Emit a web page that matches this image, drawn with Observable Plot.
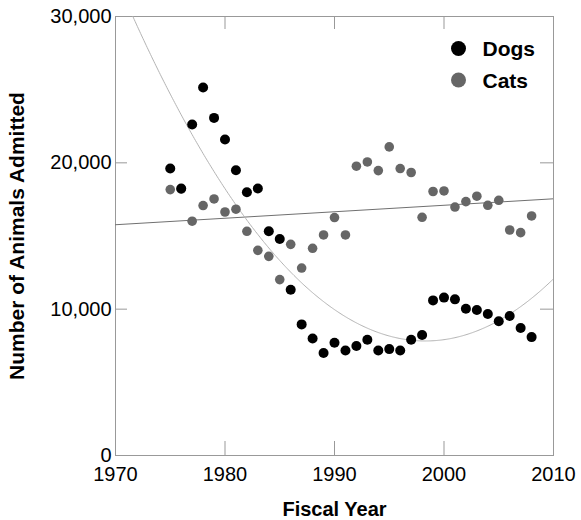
<!DOCTYPE html>
<html>
<head>
<meta charset="utf-8">
<script src="https://cdn.jsdelivr.net/npm/d3@7"></script>
<script src="https://cdn.jsdelivr.net/npm/@observablehq/plot@0.6"></script>
<style>
  html, body { margin: 0; padding: 0; background: #fff; }
  #chart svg { display: block; }
</style>
</head>
<body>
<div id="chart"></div>
<script>
// Annual shelter intake, dogs and cats
const dogYears = [1975, 1976, 1977, 1978, 1979, 1980, 1981, 1982, 1983, 1984, 1985, 1986,
  1987, 1988, 1989, 1990, 1991, 1992, 1993, 1994, 1995, 1996, 1997, 1998, 1999, 2000,
  2001, 2002, 2003, 2004, 2005, 2006, 2007, 2008];
const dogCounts = [19610, 18240, 22620, 25150, 23070, 21590, 19490, 17990, 18240, 15320, 14800, 11330,
  8960, 8000, 7000, 7710, 7180, 7480, 7910, 7180, 7270, 7180, 7910, 8230, 10600, 10790,
  10670, 10030, 9940, 9670, 9170, 9530, 8710, 8090];

const catYears = [1975, 1976, 1977, 1978, 1979, 1980, 1981, 1982, 1983, 1984, 1985, 1986,
  1987, 1988, 1989, 1990, 1991, 1992, 1993, 1994, 1995, 1996, 1997, 1998, 1999, 2000,
  2001, 2002, 2003, 2004, 2005, 2006, 2007, 2008];
const catCounts = [18170, 18200, 16010, 17080, 17530, 16640, 16830, 15320, 14020, 13610, 12020, 14430,
  12810, 14160, 15070, 16260, 15070, 19770, 20060, 19470, 21090, 19610, 19340, 16280, 18040, 18080,
  16980, 17350, 17720, 17100, 17440, 15410, 15230, 16370];

const yearDomain = [1970, 2010];
const countDomain = [0, 30000];
const yearTicks = [1970, 1980, 1990, 2000, 2010];
const innerYearTicks = [1980, 1990, 2000];
const countTicks = [0, 10000, 20000, 30000];
const innerCountTicks = [10000, 20000];
const seriesLabels = ["Dogs", "Cats"];
const seriesColors = ["#000000", "#666666"];

const dogs = dogYears.map((year, i) => ({year, count: dogCounts[i]}));
const cats = catYears.map((year, i) => ({year, count: catCounts[i]}));

// Least-squares polynomial fit (degree 1 or 2), centred on the mean year
function polyFit(xs, ys, degree) {
  const x0 = d3.mean(xs);
  const n = degree + 1;
  const A = Array.from({length: n}, () => new Array(n).fill(0));
  const b = new Array(n).fill(0);
  xs.forEach((x, k) => {
    const u = x - x0;
    for (let i = 0; i < n; i++) {
      b[i] += ys[k] * u ** i;
      for (let j = 0; j < n; j++) A[i][j] += u ** (i + j);
    }
  });
  // Gaussian elimination
  for (let i = 0; i < n; i++) {
    for (let r = i + 1; r < n; r++) {
      const f = A[r][i] / A[i][i];
      for (let c = i; c < n; c++) A[r][c] -= f * A[i][c];
      b[r] -= f * b[i];
    }
  }
  const coef = new Array(n).fill(0);
  for (let i = n - 1; i >= 0; i--) {
    let s = b[i];
    for (let c = i + 1; c < n; c++) s -= A[i][c] * coef[c];
    coef[i] = s / A[i][i];
  }
  return x => coef.reduce((acc, c, i) => acc + c * (x - x0) ** i, 0);
}

const dogTrend = polyFit(dogYears, dogCounts, 2);
const catTrend = polyFit(catYears, catCounts, 1);
const fitYears = d3.range(yearDomain[0], yearDomain[1] + 0.001, 0.1);
const dogCurve = fitYears.map(year => ({year, count: dogTrend(year)}));
const catLine = yearDomain.map(year => ({year, count: catTrend(year)}));

const font = "'Liberation Sans', Arial, Helvetica, sans-serif";
const axisGray = "#999999";

const W = 581, H = 520;
const margin = {left: 115, right: 28, top: 16, bottom: 65};
const frameW = W - margin.left - margin.right;
const frameH = H - margin.top - margin.bottom;

const chart = Plot.plot({
  width: W,
  height: H,
  marginLeft: margin.left,
  marginRight: margin.right,
  marginTop: margin.top,
  marginBottom: margin.bottom,
  style: {fontFamily: font, color: "#000", background: "#fff"},
  x: {domain: yearDomain},
  y: {domain: countDomain},
  marks: [
    Plot.frame({stroke: axisGray}),
    // inward tick marks on all four sides
    Plot.ruleX(innerYearTicks, {x: d => d, insetTop: frameH - 14, stroke: axisGray}),
    Plot.ruleX(innerYearTicks, {x: d => d, insetBottom: frameH - 13, stroke: axisGray}),
    Plot.ruleY(innerCountTicks, {y: d => d, insetRight: frameW - 12, stroke: axisGray}),
    Plot.ruleY(innerCountTicks, {y: d => d, insetLeft: frameW - 13, stroke: axisGray}),
    // tick labels
    Plot.axisX(yearTicks, {anchor: "bottom", tickSize: 0, tickPadding: 11, fontSize: 20, tickFormat: d3.format("d"), label: null, fill: "#000"}),
    Plot.axisY(countTicks, {anchor: "left", tickSize: 0, tickPadding: 4, fontSize: 20, tickFormat: d3.format(","), label: null, fill: "#000"}),
    // axis titles
    Plot.text(["Fiscal Year"], {frameAnchor: "bottom", dy: 54, text: d => d, fontSize: 20, fontWeight: "bold", lineAnchor: "middle", fill: "#000"}),
    Plot.text(["Number of Animals Admitted"], {frameAnchor: "left", dx: -98, rotate: -90, text: d => d, textAnchor: "middle", fontSize: 21, fontWeight: "bold", lineAnchor: "middle", fill: "#000"}),
    // fitted trends
    Plot.line(catLine, {x: "year", y: "count", stroke: "#707070", strokeWidth: 1, clip: true}),
    Plot.line(dogCurve, {x: "year", y: "count", stroke: "#b4b4b4", strokeWidth: 1, clip: true}),
    // observations
    Plot.dot(cats, {x: "year", y: "count", r: 4.8, fill: seriesColors[1], stroke: "none"}),
    Plot.dot(dogs, {x: "year", y: "count", r: 5, fill: seriesColors[0], stroke: "none"}),
    // legend
    ...seriesLabels.flatMap((label, i) => [
      Plot.dot([label], {frameAnchor: "top-right", dx: -95, dy: 32 + i * 31.5, r: 7.5, fill: seriesColors[i], stroke: "none"}),
      Plot.text([label], {frameAnchor: "top-right", dx: -71, dy: 33 + i * 31.5, text: d => d, textAnchor: "start", lineAnchor: "middle", fontSize: 21, fontWeight: "bold", fill: "#000"})
    ])
  ]
});

document.getElementById("chart").append(chart);
</script>
</body>
</html>
